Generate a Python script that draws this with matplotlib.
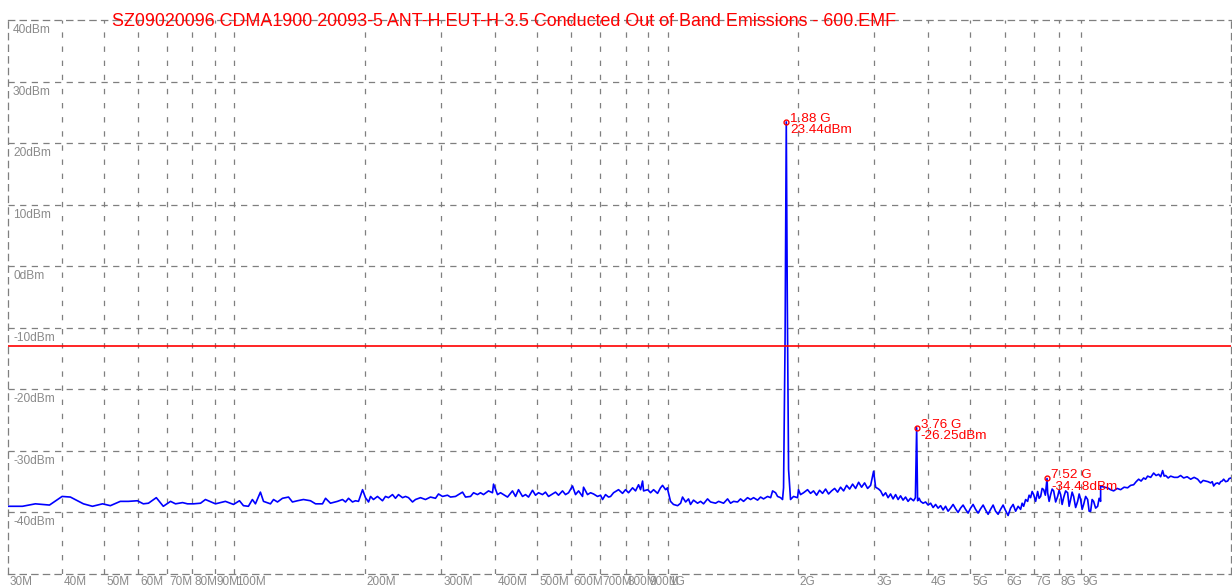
import matplotlib
matplotlib.use("Agg")
import matplotlib.pyplot as plt
import numpy as np

plt.rcParams['font.family'] = ['Liberation Sans', 'DejaVu Sans']

title = "SZ09020096 CDMA1900 20093-5 ANT-H EUT-H 3.5 Conducted Out of Band Emissions - 600.EMF"

# sweep 1: 30 MHz - 1 GHz (MHz / dBm)
seg1_mhz = [30, 32.4, 34.7, 37.4, 40.0, 41.8, 44.8, 47.0, 49.6, 51.7, 54.5, 56.9, 59.7, 61.6, 63.3,
            66.0, 68.5, 71.2, 73.1, 75.9, 77.9, 80.4, 83.5, 85.7, 90.4, 95.3, 99.5, 102.7, 104.9,
            107.7, 110.0, 111.8, 114.8, 116.7, 121.1, 123.1, 125.7, 129.1, 133.3, 136.1, 139.8,
            144.3, 149.8, 153.9, 159.7, 162.3, 166.6, 172.9, 177.6, 180.5, 183.4, 187.3, 190.3,
            193.4, 197.6, 200.7, 204.0, 206.2, 209.4, 213.9, 219.7, 223.2, 226.8, 231.7, 235.4,
            239.2, 244.4, 248.3, 252.3, 257.7, 261.8, 268.9, 276.1, 283.6, 291.2, 295.9, 302.3,
            310.4, 315.4, 323.9, 329.1, 336.2, 341.6, 350.8, 356.5, 364.1, 369.9, 375.9, 386.0,
            394.3, 396.5, 405.0, 411.5, 418.1, 427.1, 438.5, 445.7, 452.8, 462.5, 470.0, 477.5,
            487.8, 495.6, 503.6, 514.4, 522.6, 531.1, 542.5, 551.2, 560.1, 572.1, 581.3, 590.8,
            603.4, 613.1, 623.1, 636.4, 639.8, 653.5, 664.1, 674.8, 689.2, 700.4, 707.9, 719.2,
            730.8, 738.7, 750.5, 770.6, 787.2, 799.9, 812.7, 830.3, 843.6, 857.2, 866.3, 875.7,
            880.4, 900, 913.6, 928.4, 948.3, 963.4, 973.9, 989.5, 1000]
seg1_dbm = [-39.0, -39.0, -38.6, -38.8, -37.4, -37.5, -38.6, -39.0, -38.6, -38.9, -38.2, -38.2,
            -38.1, -38.6, -38.5, -37.6, -39.0, -38.2, -38.6, -38.4, -38.6, -38.6, -38.5, -37.9,
            -38.6, -38.2, -38.7, -38.1, -38.9, -39.0, -37.9, -38.6, -36.7, -38.2, -38.6, -37.9,
            -38.3, -37.7, -37.5, -38.3, -38.1, -37.9, -38.1, -38.6, -38.6, -37.7, -38.5, -38.2,
            -37.9, -38.3, -37.7, -38.3, -38.1, -38.2, -36.3, -37.6, -38.3, -37.4, -37.9, -37.4,
            -38.1, -37.4, -37.6, -37.1, -37.7, -37.1, -37.6, -37.4, -37.6, -38.3, -37.9, -37.6,
            -37.9, -37.5, -37.7, -37.0, -37.4, -37.2, -37.5, -37.4, -37.1, -36.7, -37.5, -37.4,
            -36.8, -37.1, -36.8, -37.1, -36.5, -36.8, -35.4, -37.1, -36.8, -37.1, -37.5, -36.5,
            -37.4, -36.3, -37.4, -37.1, -37.5, -36.4, -37.2, -36.8, -37.1, -36.7, -37.4, -37.0,
            -36.7, -37.2, -36.5, -37.1, -36.8, -35.7, -37.1, -36.5, -37.4, -35.9, -37.1, -36.8,
            -37.0, -37.4, -37.2, -37.9, -37.1, -37.5, -37.4, -36.8, -36.3, -36.9, -36.3, -36.8,
            -36.0, -36.5, -35.5, -36.3, -34.9, -36.5, -36.3, -36.8, -36.3, -36.9, -36.0, -35.6,
            -36.3, -36.0]

# sweep 2: 1 GHz - 10 GHz
seg2_mhz = [1000, 1016, 1032, 1055, 1072, 1083, 1101, 1118, 1130, 1148, 1173, 1192, 1211, 1237,
            1257, 1291, 1312, 1347, 1376, 1398, 1421, 1451, 1474, 1498, 1530, 1555, 1580, 1614,
            1640, 1666, 1702, 1730, 1748, 1776, 1795, 1824, 1843, 1853, 1868, 1880, 1890, 1903,
            1923, 1954, 1996, 2006, 2028, 2061, 2105, 2139, 2173, 2209, 2244, 2280, 2317, 2354,
            2392, 2431, 2470, 2509, 2550, 2591, 2633, 2675, 2718, 2762, 2806, 2851, 2897, 2944,
            2991, 3023, 3072, 3104, 3146, 3188, 3230, 3273, 3317, 3362, 3407, 3452, 3498, 3545,
            3592, 3640, 3699, 3735, 3760, 3779, 3810, 3840, 3891, 3943, 3996, 4050, 4104, 4159,
            4214, 4271, 4327, 4385, 4444, 4503, 4564, 4625, 4686, 4749, 4813, 4877, 4943, 5009,
            5076, 5144, 5213, 5283, 5354, 5425, 5498, 5571, 5646, 5721, 5798, 5875, 5954, 6034,
            6114, 6196, 6280, 6364, 6449, 6535, 6588, 6641, 6712, 6783, 6837, 6892, 6948, 7004,
            7079, 7154, 7211, 7269, 7328, 7387, 7453, 7520, 7545, 7605, 7666, 7728, 7790, 7873,
            7957, 8020, 8084, 8149, 8214, 8302, 8391, 8458, 8526, 8594, 8663, 8756, 8850, 8921,
            8992, 9064, 9136, 9234, 9333, 9408, 9483, 9558, 9634, 9738, 9843, 9921, 10000]
seg2_dbm = [-36.2, -38.2, -38.7, -38.9, -38.5, -37.5, -38.3, -37.8, -38.7, -38.0, -38.5, -38.2,
            -38.6, -37.8, -38.3, -38.5, -38.2, -38.5, -37.8, -38.5, -38.2, -38.3, -37.8, -38.2,
            -37.6, -37.9, -37.6, -38.0, -37.5, -37.8, -37.4, -37.6, -36.5, -36.8, -37.4, -37.6,
            -37.9, -36.0, -12.0, 23.44, -5.0, -33.0, -37.9, -37.4, -37.6, -36.3, -37.1, -36.8,
            -36.3, -36.9, -36.5, -37.2, -36.4, -36.9, -36.2, -37.0, -36.5, -36.1, -36.7, -35.9,
            -36.5, -35.6, -36.2, -35.4, -36.1, -35.1, -35.9, -35.2, -36.1, -35.6, -33.3, -35.9,
            -36.2, -36.5, -37.3, -36.8, -37.6, -37.0, -37.8, -37.1, -37.9, -37.3, -38.0, -37.5,
            -38.2, -37.7, -38.1, -37.6, -26.25, -38.1, -37.7, -38.2, -38.5, -38.3, -38.8, -38.5,
            -39.2, -38.7, -39.3, -38.9, -39.6, -39.0, -39.8, -39.3, -38.7, -39.4, -40.0, -39.3,
            -38.8, -39.5, -40.1, -39.3, -38.7, -39.5, -40.1, -39.4, -38.8, -39.6, -40.3, -39.5,
            -38.8, -39.8, -40.3, -39.5, -38.8, -39.7, -40.5, -39.3, -38.7, -39.8, -39.0, -39.5,
            -38.5, -39.0, -37.9, -38.2, -37.2, -37.6, -36.6, -37.1, -38.2, -36.6, -37.7, -37.4,
            -36.1, -36.3, -37.2, -34.48, -36.8, -38.2, -37.1, -36.2, -36.5, -38.3, -37.4, -36.4,
            -37.1, -38.7, -37.6, -36.5, -36.8, -39.0, -37.9, -36.7, -37.4, -39.2, -38.2, -37.0,
            -37.9, -39.5, -38.7, -37.4, -37.9, -39.8, -39.8, -37.9, -38.2, -39.3, -39.0, -37.7,
            -38.2]

# sweep 3: 10 GHz - 20 GHz
seg3_mhz = [10000, 10190, 10380, 10540, 10715, 10920, 11121, 11330, 11542, 11730, 11919, 12080,
            12241, 12400, 12570, 12700, 12839, 13050, 13256, 13430, 13612, 13760, 13905, 14020,
            14130, 14320, 14511, 14790, 15062, 15300, 15551, 15840, 16140, 16440, 16750, 17022,
            17250, 17480, 17700, 17950, 18100, 18239, 18430, 18630, 18780, 18928, 19080, 19234,
            19440, 19648, 19800, 20000]
seg3_dbm = [-35.7, -35.9, -36.0, -36.3, -36.5, -36.1, -36.3, -35.9, -36.0, -35.6, -35.5, -35.0,
            -34.6, -34.9, -34.4, -34.6, -34.1, -34.3, -33.6, -34.0, -33.8, -34.2, -33.2, -34.1,
            -34.0, -34.4, -34.1, -34.3, -34.3, -34.0, -34.4, -34.2, -34.6, -34.3, -34.6, -35.2,
            -34.8, -34.9, -35.0, -35.2, -35.0, -35.7, -35.3, -35.2, -35.4, -35.0, -34.9, -34.6,
            -35.0, -34.9, -34.5, -34.4]

limit_dbm = -13.0

marker_mhz = [1880, 3760, 7520]
marker_dbm = [23.44, -26.25, -34.48]
marker_text = ["1.88 G\n23.44dBm", "3.76 G\n-26.25dBm", "7.52 G\n-34.48dBm"]

x_grid_mhz = [40, 50, 60, 70, 80, 90, 100, 200, 300, 400, 500, 600, 700, 800, 900,
              1000, 2000, 3000, 4000, 5000, 6000, 7000, 8000, 9000]
x_label_mhz = [30] + x_grid_mhz
x_labels = ["30M", "40M", "50M", "60M", "70M", "80M", "90M", "100M", "200M", "300M", "400M",
            "500M", "600M", "700M", "800M", "900M", "1G", "2G", "3G", "4G", "5G", "6G",
            "7G", "8G", "9G"]
y_grid = [30, 20, 10, 0, -10, -20, -30, -40]
y_label_vals = [40, 30, 20, 10, 0, -10, -20, -30, -40]
y_labels = ["40dBm", "30dBm", "20dBm", "10dBm", "0dBm", "-10dBm", "-20dBm", "-30dBm", "-40dBm"]

GRID = '#7f7f7f'
TXT = '#8a8a8a'

fig = plt.figure(figsize=(12.32, 5.88), dpi=100)
ax = fig.add_axes([8 / 1232, 14 / 588, 1223 / 1232, 554 / 588])
ax.set_xscale('log')
ax.set_xlim(30, 20000)
ax.set_ylim(-50, 40)

# grid (vertical and horizontal dashes differ a little)
for f in x_grid_mhz:
    ax.axvline(f, color=GRID, lw=0.9, linestyle=(0, (4.3, 7.0)), zorder=1)
for v in y_grid:
    ax.axhline(v, color=GRID, lw=0.9, linestyle=(0, (5.0, 4.3)), zorder=1)
for s in ax.spines.values():
    s.set_color(GRID)
    s.set_linewidth(0.9)
    s.set_linestyle((0, (5.0, 4.3)))

ax.set_xticks([])
ax.set_yticks([])
ax.minorticks_off()
ax.tick_params(which='both', length=0, labelbottom=False, labelleft=False)

# trace
trace_mhz = seg1_mhz + seg2_mhz + seg3_mhz
trace_dbm = seg1_dbm + seg2_dbm + seg3_dbm
ax.plot(trace_mhz, trace_dbm, color='#0000ff', lw=1.2, zorder=3)

# limit line
ax.axhline(limit_dbm, color='#ff0000', lw=1.2, zorder=4)

# markers
ax.plot(marker_mhz, marker_dbm, 'o', ms=3.5, mfc='none', mec='#ff0000', mew=1.0, zorder=5)
for f, v, t in zip(marker_mhz, marker_dbm, marker_text):
    ax.annotate(t, xy=(f, v), xytext=(4, 9), textcoords='offset pixels',
                ha='left', va='top', color='#ff0000', fontsize=9.7, linespacing=0.95, zorder=6)

# axis labels drawn inside / below the frame
for f, t in zip(x_label_mhz, x_labels):
    ax.annotate(t, xy=(f, 0), xycoords=('data', 'axes fraction'), xytext=(2, -2),
                textcoords='offset pixels', ha='left', va='top', color=TXT, fontsize=8.5,
                annotation_clip=False)
for v, t in zip(y_label_vals, y_labels):
    ax.annotate(t, xy=(0, v), xycoords=('axes fraction', 'data'), xytext=(5, -4),
                textcoords='offset pixels', ha='left', va='top', color=TXT, fontsize=8.6)

fig.text(112 / 1232, 1 - 26 / 588, title, color='#ff0000', fontsize=12.9,
         ha='left', va='baseline')

fig.savefig('out.png', dpi=100)
